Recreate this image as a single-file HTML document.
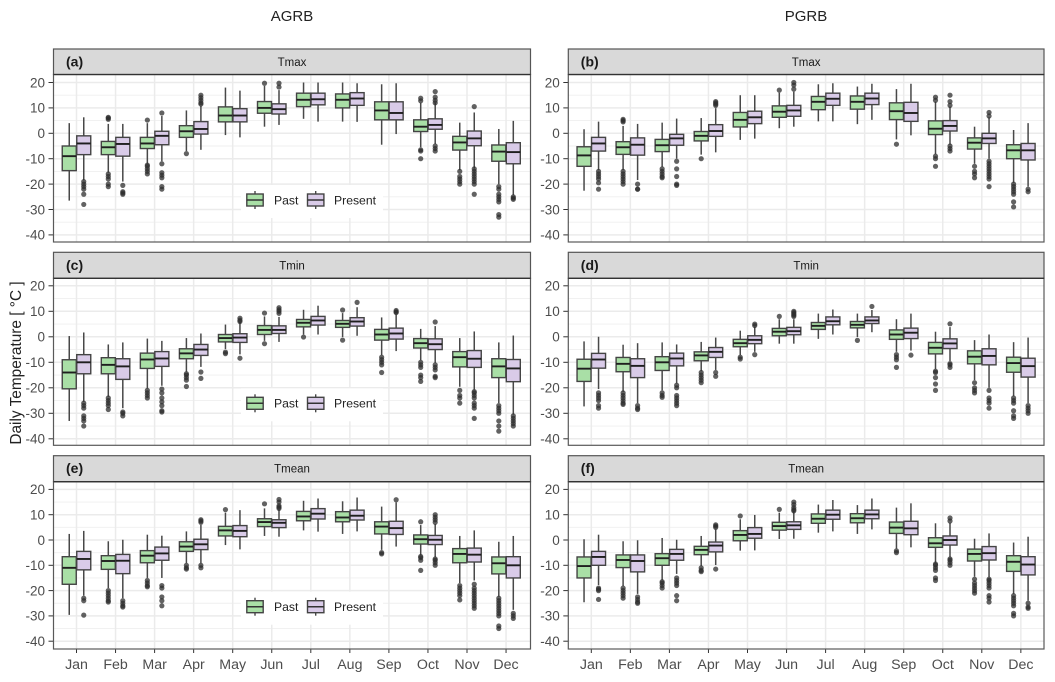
<!DOCTYPE html>
<html>
<head>
<meta charset="utf-8">
<title>Daily temperature boxplots</title>
<style>
html,body{margin:0;padding:0;background:#fff;}
svg{display:block;font-family:"Liberation Sans",sans-serif;filter:blur(0.3px);}
</style>
</head>
<body>
<svg id="figure" width="1055" height="682" viewBox="0 0 1055 682" xmlns="http://www.w3.org/2000/svg">
<text x="292" y="21" font-size="15" fill="#222" text-anchor="middle">AGRB</text>
<text x="806" y="21" font-size="15" fill="#222" text-anchor="middle">PGRB</text>
<text transform="translate(21,363) rotate(-90)" font-size="15.4" fill="#222" text-anchor="middle">Daily Temperature [ °C ]</text>
<g id="panels"></g>
</svg>
<script>
const months = ["Jan","Feb","Mar","Apr","May","Jun","Jul","Aug","Sep","Oct","Nov","Dec"];
const yTicks = [20,10,0,-10,-20,-30,-40];
const yMinorTicks = [15,5,-5,-15,-25,-35];
const seriesNames = ["Past","Present"];

// Each box row: whisker low, q1, median, q3, whisker high
const aPast = [[-26.5,-14.7,-9,-5,4],[-15.5,-8.4,-5.5,-3.2,3.7],[-12,-6,-4,-1.6,4],[-7,-1.6,0.8,3,9],[-0.7,4.5,7,10.4,18],[2.6,7.9,10,12.5,18.7],[5.7,10.5,13.2,15.8,20],[4.6,10,13.2,15.5,20],[-4.5,5.3,9,12.4,19.3],[-5.5,0.7,2.6,5.3,12],[-14.5,-6.6,-3.6,-1.2,4.2],[-20,-11,-7.2,-4.6,1.7]];
const aPresent = [[-18.5,-8.4,-4,-1,6.3],[-19,-9,-4.2,-1.6,3.7],[-11,-4.5,-1,0.8,6.8],[-6.5,-0.3,1.7,4.6,10.8],[-1.6,4.5,7,9.7,16.8],[3.3,7.6,9.5,11.6,17],[4.6,11.2,13.4,15.8,20],[4.5,11,13.7,16,19.7],[-0.3,5.3,8,12.4,19.7],[-4.2,1.6,3.3,5.7,12],[-13.8,-4.9,-2,0.9,8.2],[-24.3,-12,-7.4,-3.7,4.9]];
const aPastOut = [[],[5.5,6,6.3,-16,-17,-18,-20,-21],[5.2,-12.5,-13,-14,-15,-16],[-8],[],[19.7],[],[],[],[13.8,12.8,-6.5,-7,-10],[-15,-17,-18,-19,-20],[-21,-22,-24,-25,-26,-27,-32,-33]];
const aPresentOut = [[-19,-20,-21,-22,-24,-28],[-20.5,-23,-23.5,-24],[8,-12,-15.5,-16.5,-17.5,-21,-22],[11.5,12,13,14,15],[],[19.7,18.2],[],[],[],[16.4,14.2,13,12,-5,-6,-7],[10.5,-14,-15,-16,-17,-18,-19,-20,-24],[-25,-25.5,-26]];

const bPast = [[-22.6,-13,-8.7,-5.3,1.6],[-14.5,-8.3,-5.5,-3.3,2.9],[-13.2,-7.2,-4.7,-2.4,4.2],[-8.4,-3,-1,0.7,6],[-2.6,2.5,5.3,8.2,15],[2,6.3,8.5,10.8,16],[4.7,9.3,12.4,14.5,19.3],[3.6,9.5,12.4,14.7,18.4],[-2.4,5.4,8.7,12,17.4],[-8.2,-0.5,1.8,4.9,12.4],[-12,-6.2,-3.7,-1.8,2.6],[-19.5,-10,-6.7,-4.5,1.3]];
const bPresent = [[-14.5,-7,-4,-1.6,4.6],[-18.4,-8.6,-4.5,-1.8,3.7],[-10,-4.7,-2,-0.4,5.8],[-7.5,-1.2,0.9,3.4,9.9],[-2.1,3.8,6.3,8.7,15],[2.6,6.7,9,11,16.4],[4.7,11,13.6,15.8,19.7],[5.3,11.3,13.7,15.8,19.5],[-0.8,4.7,8,12.2,19.5],[-4.5,0.9,2.9,5,10.5],[-10,-4,-2,0,6.3],[-21,-10.5,-6.7,-4,4]];
const bPastOut = [[],[4.5,5,5.5,-15,-16,-17,-18,-19,-20],[-14,-15,-16,-17,-17.5],[-10],[],[17],[],[],[-4.3],[14.2,13,-9,-10,-13],[-13,-15,-16,-17.5],[-20,-21,-22,-23,-24,-27,-29]];
const bPresentOut = [[-15,-16,-17,-18,-19.5,-22],[-20,-22,-22],[-11,-14,-17,-20,-20.5],[12.5,12,11.5,11],[],[20,19,17.4],[],[],[],[15,12.5,11,-5,-6,-7],[8.2,6.8,-11,-12,-13,-14,-15,-16,-17,-18,-21],[-22,-23]];

const cPast = [[-33,-20.4,-14,-9,0.3],[-23.5,-14.5,-11,-8.2,-3],[-20.3,-12.4,-8.9,-6.4,-0.7],[-13.7,-8.6,-6.5,-4.7,-0.5],[-4.8,-2,-0.5,0.9,4.8],[-1.6,0.9,2.7,4.4,8],[0.9,3.9,5.5,6.8,10.6],[-0.1,3.7,5.1,6.4,9.3],[-7.2,-1.3,0.9,2.9,7.6],[-9.2,-4.4,-2.5,-0.7,3.1],[-19.6,-11.8,-8,-5.8,-0.5],[-26,-16,-11.6,-8.6,-2.2]];
const cPresent = [[-25.5,-14.5,-10,-7,1.7],[-28,-16.7,-11.6,-8.6,-2.2],[-19.2,-11.6,-8.5,-5.8,-1.6],[-11.8,-7.3,-5,-3,1.3],[-6.9,-2.2,-0.3,1.2,5.9],[-2,1.3,2.7,4.3,7.8],[0.9,4.6,6.4,8,12.2],[0.4,4.2,6,7.5,11.6],[-5.6,-0.9,1.3,3.4,8.8],[-10.2,-5,-2.9,-0.8,4.2],[-20.7,-12,-8.6,-5.4,2.1],[-30.5,-17.6,-12.4,-8.9,0.5]];
const cPastOut = [[],[-24,-25,-26,-27,-28.5],[-21,-22,-23,-24],[-14.5,-15,-16,-17,-19.5],[-6,-6.6],[9.3,-2.7],[-0.1],[10.5,-1.3],[-8,-9,-10,-11,-14],[-10,-11,-12,-15,-16,-17.5],[-21,-23,-24,-26],[-27,-28,-29,-30,-33,-35,-37]];
const cPresentOut = [[-26,-27,-28,-31,-32,-33,-35],[-29.5,-30,-31],[-20.5,-22,-24,-25.5,-27,-29,-29.5],[-13.8,-16.3],[7.3,6.5,6,-8.4],[11.4,10.6,10,9.2],[],[13.5],[10.3,9.8,9.5],[5.8,-11,-12,-13,-15.5,-16],[-21.5,-22,-23,-24,-26,-27,-28,-32],[-31,-32,-33,-34,-35]];

const dPast = [[-27.3,-17.5,-12.5,-8.8,-1.8],[-21.6,-13.7,-10.6,-8.1,-3.1],[-21,-13.2,-10,-7.8,-2.2],[-13.5,-9.4,-7.3,-5.9,-2],[-7.2,-3.9,-2.5,-1,2.4],[-2.7,0.4,2,3.3,6.9],[-0.8,2.9,4.3,5.6,9.1],[-0.1,3.5,4.7,6,9.1],[-5.9,-1,0.9,2.7,6.9],[-12.7,-6.7,-4.3,-2.2,2],[-17,-10.6,-7.8,-5.5,-1.3],[-23.3,-13.9,-10.3,-8,-2.1]];
const dPresent = [[-20.5,-12.3,-8.9,-6.5,0],[-26,-16,-11.4,-8.6,-2.5],[-18.3,-11.4,-8.5,-6.4,-3],[-13,-8.1,-5.9,-4.2,-0.3],[-5.9,-2.7,-1.2,0.4,3.9],[-2.7,0.8,2.2,3.7,6.9],[0.9,4.7,6.1,7.8,10.7],[1.8,5.2,6.4,7.8,10.5],[-5.4,-0.7,1.6,3.4,9.1],[-9.5,-4.6,-2.6,-0.8,3.8],[-20,-11,-7.5,-4.7,0.9],[-26,-15.8,-11.5,-8.4,-0.3]];
const dPastOut = [[],[-22,-23,-24,-25,-26,-26.5],[-22,-23,-23.7],[-14,-15,-16,-17,-18],[-8,-8.7],[8],[],[-1.4],[-7,-8,-9,-12],[-13.5,-14,-16,-18.5,-21],[-18,-20,-21,-22],[-24,-25,-26,-29,-31,-32]];
const dPresentOut = [[-22,-23,-24,-25,-27,-28],[-27,-28,-28.5],[-19,-20,-23,-24,-25,-26,-27],[-14,-15.5],[5,4.4,-7],[10,9.5,9,8.5,8],[],[11.9],[-7.2],[5.1,-10.5,-11,-12],[-21,-24,-25,-26,-28],[-27,-28,-29,-30]];

const ePast = [[-29.6,-17.5,-11,-6.6,2.4],[-19,-11.6,-8.3,-6.2,-0.5],[-15,-9,-6.2,-4.2,2.1],[-9.2,-4.5,-2.6,-0.7,3.4],[-2,1.6,3.8,5.4,10.8],[1.6,5.3,7.1,8.4,12.5],[3.8,7.6,9.3,11.3,15.5],[2.4,7.2,8.9,11.2,15.3],[-3.9,2.4,5.3,7.2,13.2],[-5.9,-1.6,0.3,2,5.9],[-17,-9,-5.5,-3.4,1.6],[-22.4,-13.4,-9.2,-6.7,-0.7]];
const ePresent = [[-22,-11.8,-7.5,-4.5,3.6],[-23,-13.3,-8.2,-5.7,0.1],[-15,-8,-5.3,-2.8,1.7],[-9.2,-3.8,-1.7,0.3,6],[-3.7,1.3,3.6,5.7,11.8],[1.3,4.9,6.8,8,12],[3.3,8.3,10.4,12.4,16.4],[3.4,7.9,9.6,11.8,16.8],[-2.6,2.2,4.7,7.4,14.9],[-6.8,-1.8,0.1,1.8,6.3],[-16,-8.7,-5.8,-3.2,3.8],[-27.6,-15,-10,-6.6,1.6]];
const ePastOut = [[],[-20,-21,-22,-23,-24,-24.5],[-16,-17,-18,-18.5],[-10,-11,-11.5],[12],[14.3],[],[],[-5,-5.5],[7.2,-6.5,-7,-8,-12],[-18,-19,-20,-21,-22,-23.7],[-23,-24,-25,-26,-27,-28,-29,-30,-34,-35]];
const ePresentOut = [[-23,-24,-29.7],[-24,-25,-26,-26.5],[-18,-19,-22.5,-24,-26],[8,7.5,7,-10,-11],[],[16,15,13.5,13,12.5],[],[],[15.9],[10,9,8,7,-7.5,-8,-9,-10],[-17.5,-19,-20,-21,-22,-23,-24,-25,-26,-27],[-29,-30,-31]];

const fPast = [[-24.6,-15,-10.3,-6.7,0.3],[-18.2,-10.9,-7.9,-5.9,-0.5],[-15.8,-10,-7.2,-5.4,0.8],[-10.3,-5.8,-3.9,-2.5,1.6],[-4.2,-0.3,2,3.7,8.2],[0.4,3.9,5.5,7,10.8],[2.9,6.6,8.4,10.3,14],[2.4,6.8,8.6,10.4,13.8],[-3.4,2.6,4.9,7.1,12.8],[-9,-2.9,-1.3,0.9,6.6],[-14.5,-8.3,-5.5,-3.6,0.5],[-21.3,-12.4,-8.6,-6.2,-1]];
const fPresent = [[-17.8,-10,-6.7,-4.5,2.1],[-21.3,-12.6,-8.3,-5.9,-0.1],[-13.4,-8,-5.5,-3.7,0.1],[-9.9,-4.7,-2.2,-0.8,4.2],[-4.1,0.7,2.4,4.9,9.9],[0.5,4.2,5.8,7.2,11.4],[3.4,8.2,10,11.8,15.8],[4.2,8.4,10.1,11.8,16.4],[-2.9,2.1,4.6,7.4,14.5],[-6.8,-2,0,1.6,6.8],[-14.7,-7.9,-5.2,-2.6,2.6],[-24,-13.8,-9.7,-6.6,1.3]];
const fPastOut = [[],[-19,-20,-21,-22,-23],[-16.5,-17,-18,-19],[-11,-12,-12.5],[9.5],[12.1],[],[],[-4.3,-5],[-9.5,-10,-11,-12,-15,-16],[-15.5,-17,-18,-19,-20,-21],[-22,-23,-24,-25,-26,-29,-30]];
const fPresentOut = [[-19,-19.5,-20,-23.5],[-22.5,-23.5,-24.5,-25],[-15,-16,-17,-18,-22,-24],[6,5.5,5,-11.5],[],[15,14,12.8,12,11.5],[],[],[],[8.7,7.5,-7.5,-8,-9,-10],[-15.5,-16,-17,-18,-19,-22,-23,-24.5],[-25,-26.5,-27]];

const panelDefs = [
  {key:"a",tag:"(a)",title:"Tmax",col:0,top:49,stripH:25.5,bottom:242,y0:133.3,k:2.54,past:aPast,present:aPresent,pastOut:aPastOut,presentOut:aPresentOut},
  {key:"b",tag:"(b)",title:"Tmax",col:1,top:49,stripH:25.5,bottom:242,y0:133.3,k:2.54,past:bPast,present:bPresent,pastOut:bPastOut,presentOut:bPresentOut},
  {key:"c",tag:"(c)",title:"Tmin",col:0,top:252.3,stripH:26,bottom:445.3,y0:336.8,k:2.55,past:cPast,present:cPresent,pastOut:cPastOut,presentOut:cPresentOut},
  {key:"d",tag:"(d)",title:"Tmin",col:1,top:252.3,stripH:26,bottom:445.3,y0:336.8,k:2.55,past:dPast,present:dPresent,pastOut:dPastOut,presentOut:dPresentOut},
  {key:"e",tag:"(e)",title:"Tmean",col:0,top:455.7,stripH:26,bottom:649,y0:540,k:2.53,past:ePast,present:ePresent,pastOut:ePastOut,presentOut:ePresentOut},
  {key:"f",tag:"(f)",title:"Tmean",col:1,top:455.7,stripH:26,bottom:649,y0:540,k:2.53,past:fPast,present:fPresent,pastOut:fPastOut,presentOut:fPresentOut}
];

const NS = "http://www.w3.org/2000/svg";
const colLeft = [53.5,568.3];
const colRight = [530.5,1044];
const colFirst = [76.5,591.3];
const monthStep = 39.05;
const dodge = 7.25;
const boxW = 14;
const fills = ["#a9dfa6","#d9cbe8"];
const root = document.getElementById("panels");

function make(parent, tag, attrs, text){
  const el = document.createElementNS(NS, tag);
  for (const k in attrs) el.setAttribute(k, attrs[k]);
  if (text !== undefined) el.textContent = text;
  parent.appendChild(el);
  return el;
}

function drawBox(group, x, row, outs, fill, y, label){
  const whiskerLow = make(group,"line",{x1:x,x2:x,y1:y(row[0]),y2:y(row[1]),stroke:"#484848","stroke-width":1.5});
  
  
  const whiskerHigh = make(group,"line",{x1:x,x2:x,y1:y(row[3]),y2:y(row[4]),stroke:"#484848","stroke-width":1.5});
  
  
  const body = make(group,"rect",{x:x-boxW/2,y:y(row[3]),width:boxW,height:y(row[1])-y(row[3]),fill:fill,stroke:"#444","stroke-width":1.4});
  
  
  const median = make(group,"line",{x1:x-boxW/2,x2:x+boxW/2,y1:y(row[2]),y2:y(row[2]),stroke:"#1f1f1f","stroke-width":1.9});
  
  
  outs.forEach(function(v){
    const dot = make(group,"circle",{cx:x,cy:y(v),r:2.6,fill:"#2e2e2e","fill-opacity":0.75});
    
    
  });
}

panelDefs.forEach(function(p){
  const L = colLeft[p.col], R = colRight[p.col];
  const plotTop = p.top + p.stripH;
  const y = function(v){ return p.y0 - v * p.k; };
  const x = function(i){ return colFirst[p.col] + i * monthStep; };

  const g = make(root,"g",{});
  
  

  const bg = make(g,"rect",{x:L,y:plotTop,width:R-L,height:p.bottom-plotTop,fill:"#fff"});
  
  

  yMinorTicks.forEach(function(v){
    const line = make(g,"line",{x1:L,x2:R,y1:y(v),y2:y(v),stroke:"#efefef","stroke-width":0.9});
    
    
  });
  yTicks.forEach(function(v){
    const line = make(g,"line",{x1:L,x2:R,y1:y(v),y2:y(v),stroke:"#ebebeb","stroke-width":1.5});
    
    
    const tick = make(g,"line",{x1:L-5,x2:L,y1:y(v),y2:y(v),stroke:"#333","stroke-width":1});
    
    
    const lab = make(g,"text",{x:L-8.5,y:y(v)+4.8,"font-size":13.5,fill:"#4d4d4d","text-anchor":"end"},String(v));
    
    
  });
  months.forEach(function(m,i){
    const line = make(g,"line",{x1:x(i),x2:x(i),y1:plotTop,y2:p.bottom,stroke:"#ebebeb","stroke-width":1.5});
    
    
  });

  if (p.col === 0) {
    const lg = make(g,"g",{});
    
    
    const t = p.top;
    const lbg = make(lg,"rect",{x:241,y:t+136,width:142,height:33,fill:"#fff"});
    
    
    const keyX = [255,315.7];
    const labX = [274,334];
    seriesNames.forEach(function(name,i){
      const cy = t + 151;
      const entry = make(lg,"g",{});
      
      
      const w = make(entry,"line",{x1:keyX[i],x2:keyX[i],y1:cy-9,y2:cy+9,stroke:"#484848","stroke-width":1.4});
      
      
      const b = make(entry,"rect",{x:keyX[i]-8.2,y:cy-6,width:16.4,height:12,fill:fills[i],stroke:"#444","stroke-width":1.4});
      
      
      const ml = make(entry,"line",{x1:keyX[i]-8.2,x2:keyX[i]+8.2,y1:cy,y2:cy,stroke:"#333","stroke-width":1.5});
      
      
      const tx = make(entry,"text",{x:labX[i],y:cy+4.3,"font-size":12.2,fill:"#222"},name);
      
      
    });
  }

  months.forEach(function(m,i){
    const mg = make(g,"g",{});
    
    
    drawBox(mg, x(i)-dodge, p.past[i], p.pastOut[i], fills[0], y, 'past');
    drawBox(mg, x(i)+dodge, p.present[i], p.presentOut[i], fills[1], y, 'present');
    if (p.key === "e" || p.key === "f") {
      const tick = make(g,"line",{x1:x(i),x2:x(i),y1:p.bottom,y2:p.bottom+4,stroke:"#333","stroke-width":1});
      
      
      const lab = make(g,"text",{x:x(i),y:p.bottom+20,"font-size":14.2,fill:"#4d4d4d","text-anchor":"middle"},m);
      
      
    }
  });

  const border = make(g,"rect",{x:L,y:plotTop,width:R-L,height:p.bottom-plotTop,fill:"none",stroke:"#595959","stroke-width":1.2});
  
  

  const strip = make(g,"rect",{x:L,y:p.top,width:R-L,height:p.stripH,fill:"#d9d9d9",stroke:"#555","stroke-width":1.2});
  
  
  const stripLine = make(g,"line",{x1:L,x2:R,y1:plotTop,y2:plotTop,stroke:"#333","stroke-width":1.3});
  
  
  const tag = make(g,"text",{x:L+12.5,y:p.top+17.5,"font-size":14,"font-weight":"bold",fill:"#1a1a1a"},p.tag);
  
  
  const title = make(g,"text",{x:(L+R)/2,y:p.top+17,"font-size":11.5,fill:"#1a1a1a","text-anchor":"middle"},p.title);
  
  
});
</script>
</body>
</html>
